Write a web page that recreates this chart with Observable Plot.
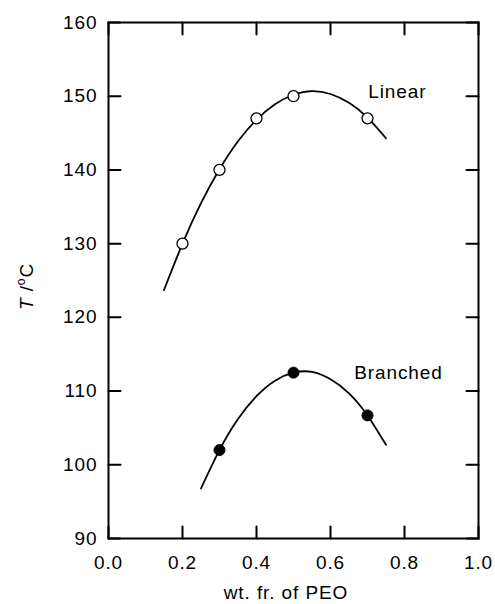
<!DOCTYPE html>
<html>
<head>
<meta charset="utf-8">
<script src="https://cdn.jsdelivr.net/npm/d3@7"></script>
<script src="https://cdn.jsdelivr.net/npm/@observablehq/plot@0.6"></script>
<style>
  html, body { margin: 0; padding: 0; background: #fff; }
  svg { display: block; }
  svg text { letter-spacing: 0.9px; }
</style>
</head>
<body>
<div id="chart"></div>
<script>
// Tick values
const xTicks = [0.0, 0.2, 0.4, 0.6, 0.8, 1.0];
const yTicks = [90, 100, 110, 120, 130, 140, 150, 160];

// Measured points
const linearX = [0.2, 0.3, 0.4, 0.5, 0.7];
const linearT = [130, 140, 147, 150, 147];
const branchedX = [0.3, 0.5, 0.7];
const branchedT = [102, 112.5, 106.7];

// Fitted curves
const linearCurveX = [0.15, 0.20, 0.25, 0.30, 0.35, 0.40, 0.45, 0.50, 0.55, 0.60, 0.65, 0.70, 0.75];
const linearCurveT = [123.7, 130.0, 135.5, 140.1, 143.9, 146.8, 148.9, 150.2, 150.7, 150.3, 149.1, 147.1, 144.3];
const branchedCurveX = [0.25, 0.30, 0.35, 0.40, 0.45, 0.50, 0.55, 0.60, 0.65, 0.70, 0.75];
const branchedCurveT = [96.8, 102.0, 106.2, 109.3, 111.4, 112.5, 112.6, 111.6, 109.7, 106.7, 102.7];

// Series labels
const seriesNames = ["Linear", "Branched"];
const seriesLabelX = [0.702, 0.664];
const seriesLabelT = [150.6, 112.5];

const zip = (xs, ys) => xs.map((x, i) => ({x, y: ys[i]}));
const linearPts = zip(linearX, linearT);
const branchedPts = zip(branchedX, branchedT);
const linearCurve = zip(linearCurveX, linearCurveT);
const branchedCurve = zip(branchedCurveX, branchedCurveT);
const labels = seriesNames.map((name, i) => ({name, x: seriesLabelX[i], y: seriesLabelT[i]}));

const font = "'Liberation Sans', Arial, Helvetica, sans-serif";
const fs = 19;
const tickShape = {draw(context, l) { context.moveTo(0, 0); context.lineTo(0, -l); }};
const tickLen = 12;
const tickOpts = {length: tickLen, anchor: "start", shape: tickShape, stroke: "black", strokeWidth: 2};

const chart = Plot.plot({
  width: 495,
  height: 604,
  marginLeft: 108,
  marginRight: 17,
  marginTop: 22,
  marginBottom: 66,
  x: {domain: [0, 1]},
  y: {domain: [90, 160]},
  style: {fontFamily: font, fontSize: fs + "px", color: "black", background: "white"},
  marks: [
    Plot.axisX({ticks: xTicks, tickSize: 0, tickPadding: 17, tickFormat: d3.format(".1f"), label: null, fontSize: fs}),
    Plot.axisY({ticks: yTicks, tickSize: 0, tickPadding: 11, label: null, fontSize: fs}),
    Plot.vector(xTicks, {x: d => d, frameAnchor: "bottom", rotate: 0, ...tickOpts}),
    Plot.vector(xTicks, {x: d => d, frameAnchor: "top", rotate: 180, ...tickOpts}),
    Plot.vector(yTicks, {y: d => d, frameAnchor: "left", rotate: 90, ...tickOpts}),
    Plot.vector(yTicks, {y: d => d, frameAnchor: "right", rotate: -90, ...tickOpts}),
    Plot.frame({stroke: "black", strokeWidth: 2}),
    Plot.line(linearCurve, {x: "x", y: "y", curve: "natural", stroke: "black", strokeWidth: 1.8}),
    Plot.line(branchedCurve, {x: "x", y: "y", curve: "natural", stroke: "black", strokeWidth: 1.8}),
    Plot.dot(linearPts, {x: "x", y: "y", r: 5.5, fill: "white", stroke: "black", strokeWidth: 1.3}),
    Plot.dot(branchedPts, {x: "x", y: "y", r: 5.5, fill: "black", stroke: "black", strokeWidth: 1}),
    Plot.text(labels, {x: "x", y: "y", text: "name", textAnchor: "start", lineAnchor: "middle", fontSize: fs, fill: "black"})
  ]
});

const svg = d3.select(chart);
// y-axis title: T /°C
const yt = svg.append("text")
  .attr("transform", "translate(33,286.5) rotate(-90)")
  .attr("text-anchor", "middle")
  .attr("font-family", font)
  .attr("font-size", fs)
  .attr("fill", "black");
yt.append("tspan").attr("font-style", "italic").text("T");
yt.append("tspan").text(" /");
yt.append("tspan").attr("font-size", 12).attr("dy", -8).text("o");
yt.append("tspan").attr("dy", 8).text("C");

// x-axis title
svg.append("text")
  .attr("x", 286)
  .attr("y", 599)
  .attr("text-anchor", "middle")
  .attr("font-family", font)
  .attr("font-size", fs)
  .attr("fill", "black")
  .text("wt. fr. of PEO");

document.getElementById("chart").appendChild(chart);
</script>
</body>
</html>
